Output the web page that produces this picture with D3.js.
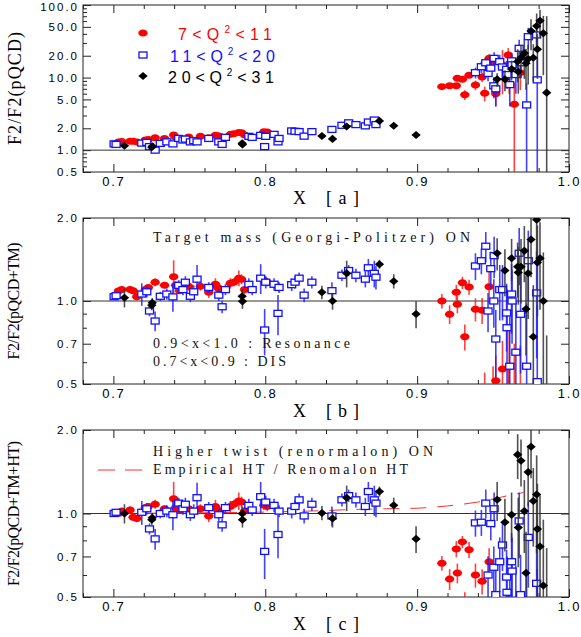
<!DOCTYPE html>
<html>
<head>
<meta charset="utf-8">
<script src="https://cdn.jsdelivr.net/npm/d3@7"></script>
<style>
body { margin: 0; background: #fff; }
svg { display: block; }
</style>
</head>
<body>
<script>
'use strict';

// x axis
const xDomain = [0.68, 1.0];
const xLabelTicks = [0.7, 0.8, 0.9, 1.0];

// 7<Q^2<11
const redX = [0.7033, 0.7055, 0.711, 0.713, 0.7154, 0.721, 0.723, 0.7275, 0.7337, 0.7397, 0.741, 0.7436, 0.7496, 0.7573, 0.7628, 0.7672, 0.7687, 0.770, 0.777, 0.7793, 0.7826, 0.7844, 0.7864, 0.7991, 0.8013,
    0.9163, 0.9214, 0.9258, 0.9265, 0.9298, 0.9314, 0.9342, 0.9384, 0.9428, 0.9445, 0.9474, 0.9500, 0.9518, 0.9562, 0.9600, 0.9606, 0.9640, 0.9680];
const redA = [1.30, 1.32, 1.33, 1.33, 1.30, 1.38, 1.40, 1.48, 1.45, 1.62, 1.50, 1.45, 1.52, 1.55, 1.48, 1.60, 1.58, 1.55, 1.65, 1.68, 1.75, 1.74, 1.62, 1.80, 1.78,
    7.5, 7.7, 7.7, 9.8, 9.5, 5.8, 10.8, 7.9, 10.2, 6.1, 18.4, 16.6, 6.0, 14.9, 20.5, 12.0, 4.3, 11.7];
const redAErr = [0.03, 0.03, 0.03, 0.03, 0.03, 0.03, 0.03, 0.04, 0.03, 0.08, 0.04, 0.03, 0.04, 0.04, 0.04, 0.05, 0.04, 0.04, 0.05, 0.04, 0.06, 0.05, 0.04, 0.05, 0.05,
    0.4, 0.5, 0.5, 0.7, 0.8, 0.9, 1.0, 1.2, 1.5, 1.4, 2.5, 3.0, 2.0, 9.0, 5.0, 6.0, 4.2, 5.0];
const redB = [1.087, 1.10, 1.10, 1.09, 1.036, 1.10, 1.12, 1.17, 1.14, 1.225, 1.14, 1.09, 1.13, 1.13, 1.075, 1.15, 1.12, 1.10, 1.16, 1.17, 1.21, 1.20, 1.10, 1.19, 1.17,
    1.00, 0.895, 1.075, 0.973, 1.165, 0.742, 1.124, 0.933, 0.925, 0.45, 1.127, 0.48, 0.514, 0.567, 0.46, 0.579, 0.40, 0.44];
const redBErr = [0.02, 0.02, 0.03, 0.03, 0.03, 0.03, 0.03, 0.04, 0.03, 0.18, 0.04, 0.03, 0.04, 0.04, 0.05, 0.06, 0.04, 0.04, 0.05, 0.04, 0.08, 0.05, 0.04, 0.04, 0.04,
    0.06, 0.07, 0.07, 0.07, 0.06, 0.08, 0.07, 0.09, 0.10, 0.10, 0.15, 0.10, 0.12, 0.15, 0.12, 0.20, 0.30, 0.25];
const redC = [1.00, 1.02, 1.03, 0.97, 0.96, 1.05, 1.06, 1.08, 1.04, 1.13, 1.05, 1.03, 1.04, 1.04, 0.98, 1.06, 1.03, 1.01, 1.06, 1.08, 1.11, 1.10, 1.02, 1.07, 1.06,
    0.662, 0.58, 0.745, 0.61, 0.79, 0.47, 0.74, 0.60, 0.57, 0.30, 0.67, 0.32, 0.33, 0.36, 0.30, 0.37, 0.26, 0.30];
const redCErr = [0.02, 0.02, 0.03, 0.03, 0.03, 0.03, 0.03, 0.04, 0.03, 0.17, 0.04, 0.03, 0.04, 0.04, 0.05, 0.06, 0.04, 0.04, 0.05, 0.04, 0.08, 0.05, 0.04, 0.04, 0.04,
    0.04, 0.05, 0.05, 0.05, 0.04, 0.05, 0.05, 0.06, 0.06, 0.06, 0.08, 0.06, 0.08, 0.10, 0.08, 0.12, 0.20, 0.15];

// 11<Q^2<20
const blueX = [0.7005, 0.7018, 0.7187, 0.722, 0.7238, 0.7275, 0.7309, 0.7352, 0.7392, 0.743, 0.7458, 0.7474, 0.7507, 0.7529, 0.7551, 0.7628, 0.7694, 0.7716, 0.7738, 0.7892,
    0.7914, 0.797, 0.7996, 0.8003, 0.8058, 0.8084, 0.8091, 0.8174, 0.8196, 0.8223, 0.8256, 0.8307, 0.8439, 0.8505, 0.8549, 0.8597, 0.8659, 0.8679, 0.8718, 0.8729,
    0.9384, 0.9423, 0.9452, 0.9467, 0.9485, 0.9505, 0.9507, 0.9518, 0.9544, 0.9562, 0.9589, 0.9592, 0.9610, 0.9622, 0.9625, 0.9650, 0.9672, 0.9681, 0.9721, 0.9732, 0.9787, 0.9791];
const blueA = [1.22, 1.20, 1.25, 1.28, 1.12, 1.0, 1.24, 1.30, 1.22, 1.45, 1.38, 1.42, 1.30, 1.35, 1.30, 1.45, 1.30, 1.20, 1.50, 1.55,
    1.50, 1.60, 1.12, 1.55, 1.65, 1.30, 1.45, 1.84, 1.82, 1.80, 1.56, 1.80, 1.93, 2.2, 2.38, 2.25, 2.16, 2.44, 2.6, 2.25,
    11.7, 14.1, 16.0, 11.4, 13.5, 7.7, 18.4, 7.0, 16.6, 14.0, 13.0, 11.0, 8.0, 17.0, 15.0, 11.0, 25.3, 16.0, 4.2, 36.6, 38.7, 9.3];
const blueAErr = [0.03, 0.03, 0.06, 0.04, 0.04, 0.05, 0.04, 0.04, 0.08, 0.04, 0.04, 0.05, 0.04, 0.05, 0.10, 0.04, 0.04, 0.04, 0.04, 0.05,
    0.04, 0.12, 0.12, 0.05, 0.05, 0.10, 0.04, 0.06, 0.06, 0.06, 0.06, 0.06, 0.08, 0.07, 0.07, 0.08, 0.08, 0.12, 0.15, 0.12,
    2, 2.5, 3, 2.5, 3, 2.5, 4, 3, 4, 4, 4, 4, 4, 5, 5, 5, 8, 6, 4.1, 12, 15, 9.2];
const blueB = [1.036, 1.045, 1.06, 1.08, 0.92, 0.846, 1.04, 1.06, 1.035, 1.14, 1.10, 1.17, 1.04, 1.08, 1.20, 1.12, 1.05, 0.953, 1.10, 1.15,
    1.10, 1.21, 0.785, 1.17, 1.15, 0.902, 1.12, 1.146, 1.17, 1.21, 1.05, 1.17, 1.09, 1.24, 1.29, 1.24, 1.20, 1.32, 1.26, 1.22,
    1.34, 1.40, 1.58, 0.92, 1.31, 1.0, 1.46, 0.728, 1.10, 1.10, 0.905, 0.80, 0.58, 1.06, 1.0, 0.652, 1.49, 0.895, 0.58, 1.40, 1.07, 0.51];
const blueBErr = [0.02, 0.02, 0.10, 0.05, 0.04, 0.07, 0.04, 0.05, 0.12, 0.05, 0.05, 0.06, 0.05, 0.06, 0.15, 0.05, 0.05, 0.05, 0.05, 0.06,
    0.05, 0.15, 0.15, 0.06, 0.06, 0.15, 0.05, 0.06, 0.06, 0.06, 0.06, 0.06, 0.08, 0.06, 0.06, 0.07, 0.08, 0.10, 0.14, 0.12,
    0.15, 0.15, 0.2, 0.15, 0.2, 0.2, 0.25, 0.2, 0.25, 0.25, 0.25, 0.3, 0.3, 0.3, 0.3, 0.35, 0.35, 0.35, 0.4, 0.4, 0.45, 0.45];
const blueC = [1.0, 1.01, 1.01, 1.04, 0.88, 0.81, 1.0, 1.02, 0.99, 1.09, 1.04, 1.08, 0.99, 1.02, 1.14, 1.05, 0.99, 0.91, 1.05, 1.07,
    1.03, 1.15, 0.73, 1.10, 1.07, 0.84, 1.02, 1.02, 1.06, 1.12, 0.98, 1.08, 0.98, 1.12, 1.16, 1.12, 1.06, 1.2, 1.12, 1.09,
    0.925, 0.93, 1.09, 0.60, 0.92, 0.64, 1.04, 0.51, 0.67, 0.77, 0.59, 0.52, 0.40, 0.67, 0.62, 0.45, 0.94, 0.51, 0.38, 0.82, 0.56, 0.33];
const blueCErr = [0.02, 0.02, 0.10, 0.05, 0.04, 0.07, 0.04, 0.05, 0.12, 0.05, 0.05, 0.06, 0.05, 0.06, 0.15, 0.05, 0.05, 0.05, 0.05, 0.06,
    0.05, 0.15, 0.15, 0.06, 0.06, 0.15, 0.05, 0.06, 0.06, 0.06, 0.06, 0.06, 0.08, 0.06, 0.06, 0.07, 0.08, 0.10, 0.14, 0.12,
    0.1, 0.1, 0.13, 0.1, 0.12, 0.12, 0.15, 0.12, 0.15, 0.15, 0.15, 0.18, 0.18, 0.18, 0.2, 0.2, 0.25, 0.2, 0.25, 0.28, 0.3, 0.3];

// 20<Q^2<31
const blackX = [0.7073, 0.7253, 0.7256, 0.7848, 0.7850, 0.8373, 0.8443, 0.8536, 0.8752, 0.8846, 0.8993,
    0.9527, 0.9578, 0.9622, 0.9662, 0.9666, 0.9684, 0.9706, 0.9717, 0.9731, 0.9750, 0.9765, 0.9787, 0.9792, 0.9809, 0.9831, 0.9853];
const blackA = [1.15, 1.10, 1.13, 1.24, 1.20, 1.57, 1.43, 2.12, 2.53, 2.17, 1.62,
    9.5, 9.5, 13.1, 16.6, 12.0, 18.8, 21.6, 15.8, 18.0, 43.8, 18.8, 51.4, 24.6, 60.8, 40.8, 6.2];
const blackAErr = [0.05, 0.05, 0.05, 0.06, 0.06, 0.08, 0.08, 0.15, 0.10, 0.10, 0.10,
    2, 3, 4, 8, 6, 9, 12, 9, 10, 20, 10, 25, 15, 25, 30, 64];
const blackB = [1.028, 0.965, 0.985, 1.04, 0.997, 1.075, 1.0, 1.26, 1.36, 1.18, 0.897,
    1.49, 1.29, 1.43, 1.33, 1.27, 1.33, 1.52, 0.935, 1.26, 1.67, 0.742, 1.97, 1.38, 1.43, 1.0, 0.45];
const blackBErr = [0.08, 0.04, 0.04, 0.06, 0.06, 0.06, 0.07, 0.14, 0.05, 0.07, 0.10,
    0.2, 0.25, 0.25, 0.3, 0.3, 0.35, 0.35, 0.3, 0.4, 0.45, 0.4, 0.6, 0.5, 0.5, 0.5, 0.3];
const blackC = [1.0, 0.95, 0.965, 1.0, 0.95, 1.005, 0.96, 1.14, 1.2, 1.07, 0.81,
    1.12, 0.93, 0.99, 1.63, 0.89, 1.55, 1.02, 0.61, 1.41, 1.74, 1.11, 1.17, 0.88, 0.76, 0.55, 0.45];
const blackCErr = [0.08, 0.04, 0.04, 0.06, 0.06, 0.06, 0.07, 0.12, 0.05, 0.07, 0.09,
    0.18, 0.2, 0.2, 0.3, 0.25, 0.3, 0.3, 0.25, 0.35, 0.4, 0.35, 0.45, 0.4, 0.4, 0.4, 0.3];

// Empirical HT / renormalon HT ratio curve (panel c)
const htX = [0.70, 0.75, 0.80, 0.84, 0.86, 0.88, 0.90, 0.92, 0.94, 0.96, 0.97];
const htY = [1.0, 1.005, 1.012, 1.025, 1.035, 1.04, 1.045, 1.065, 1.10, 1.16, 1.19];

// y axis labels
const yLabelsA = [0.5, 1, 2, 5, 10, 20, 50, 100];
const yLabelsBC = [0.5, 0.7, 1, 2];

const width = 581;
const height = 637;
const serif = '"Liberation Serif", "DejaVu Serif", serif';
const sans = '"Liberation Sans", Arial, sans-serif';

const svg = d3.select('body')
    .append('svg')
    .attr('width', width)
    .attr('height', height);

const x = d3.scaleLinear().domain(xDomain).range([83, 569]);
const rows = (xs, ys, es) => xs.map((v, i) => ({ x: v, y: ys[i], e: es[i] }));

const seriesStyle = {
    red: { mark: 'ellipse', color: '#ff0000', bar: '#ff2020' },
    blue: { mark: 'square', color: '#1010ff', bar: '#2020ff' },
    black: { mark: 'diamond', color: '#000', bar: '#333' }
};

const panels = [
    {
        name: 'a', top: 5, bottom: 172, domain: [0.5, 100], labels: yLabelsA,
        ytitle: 'F2/F2(pQCD)', ytitleX: 21, ytitleSize: 18, ytitleLen: 113,
        data: [['red', redX, redA, redAErr], ['blue', blueX, blueA, blueAErr], ['black', blackX, blackA, blackAErr]]
    },
    {
        name: 'b', top: 218, bottom: 384, domain: [0.5, 2], labels: yLabelsBC,
        ytitle: 'F2/F2(pQCD+TM)', ytitleX: 19, ytitleSize: 16, ytitleLen: 117,
        data: [['red', redX, redB, redBErr], ['blue', blueX, blueB, blueBErr], ['black', blackX, blackB, blackBErr]]
    },
    {
        name: 'c', top: 430, bottom: 597, domain: [0.5, 2], labels: yLabelsBC,
        ytitle: 'F2/F2(pQCD+TM+HT)', ytitleX: 19, ytitleSize: 16, ytitleLen: 145,
        data: [['red', redX, redC, redCErr], ['blue', blueX, blueC, blueCErr], ['black', blackX, blackC, blackCErr]]
    }
];

const drawMarks = (layer, kind, data, y) => {
    const st = seriesStyle[kind];
    if (st.mark === 'ellipse') {
        layer.selectAll('ellipse').data(data).join('ellipse')
            .attr('cx', d => x(d.x)).attr('cy', d => y(d.y))
            .attr('rx', 4.7).attr('ry', 3.5)
            .attr('fill', st.color);
    } else if (st.mark === 'square') {
        layer.selectAll('rect').data(data).join('rect')
            .attr('x', d => x(d.x) - 4).attr('y', d => y(d.y) - 3)
            .attr('width', 8).attr('height', 6)
            .attr('fill', '#fff').attr('stroke', st.color).attr('stroke-width', 1.3);
    } else {
        const sym = d3.symbol().type(d3.symbolDiamond).size(36);
        layer.selectAll('path').data(data).join('path')
            .attr('d', sym)
            .attr('transform', d => `translate(${x(d.x)},${y(d.y)}) scale(1.45,0.72)`)
            .attr('fill', st.color);
    }
};

const styleAxis = (sel) => {
    sel.select('.domain').remove();
    sel.selectAll('line').attr('stroke', '#222');
};

panels.forEach(p => {
    const y = d3.scaleLog().domain(p.domain).range([p.bottom, p.top]);
    const g = svg.append('g').attr('class', 'panel_' + p.name);
    const [x0, x1] = x.range();

    svg.append('clipPath').attr('id', 'clip_' + p.name)
        .append('rect')
        .attr('x', x0).attr('y', p.top)
        .attr('width', x1 - x0).attr('height', p.bottom - p.top);

    // ticks (inward)
    const xMinor = x.ticks(16).filter(v => !xLabelTicks.some(t => Math.abs(t - v) < 1e-6));
    const yMinor = y.ticks().filter(v => !p.labels.some(t => Math.abs(t - v) < 1e-6));

    const bottomMajor = g.append('g').attr('transform', `translate(0,${p.bottom})`)
        .call(d3.axisBottom(x).tickValues(xLabelTicks).tickSize(-8).tickPadding(5).tickFormat(d3.format('.1f')));
    bottomMajor.selectAll('text')
        .attr('font-family', sans).attr('font-size', 13).attr('letter-spacing', 1.8)
        .attr('fill', '#000');
    g.append('g').attr('transform', `translate(0,${p.bottom})`)
        .call(d3.axisBottom(x).tickValues(xMinor).tickSize(-4).tickFormat(''));
    g.append('g').attr('transform', `translate(0,${p.top})`)
        .call(d3.axisTop(x).tickValues(xLabelTicks).tickSize(-8).tickFormat(''));
    g.append('g').attr('transform', `translate(0,${p.top})`)
        .call(d3.axisTop(x).tickValues(xMinor).tickSize(-4).tickFormat(''));

    const leftMajor = g.append('g').attr('transform', `translate(${x0},0)`)
        .call(d3.axisLeft(y).tickValues(p.labels).tickSize(-8).tickPadding(4).tickFormat(d3.format('.1f')));
    leftMajor.selectAll('text')
        .attr('font-family', sans).attr('font-size', 11.5).attr('letter-spacing', 2)
        .attr('fill', '#000')
        .attr('dy', d => (p.name === 'a' && d === 100 ? '0.45em' : '0.32em'));
    g.append('g').attr('transform', `translate(${x0},0)`)
        .call(d3.axisLeft(y).tickValues(yMinor).tickSize(-4).tickFormat(''));
    g.append('g').attr('transform', `translate(${x1},0)`)
        .call(d3.axisRight(y).tickValues(p.labels).tickSize(-8).tickFormat(''));
    g.append('g').attr('transform', `translate(${x1},0)`)
        .call(d3.axisRight(y).tickValues(yMinor).tickSize(-4).tickFormat(''));
    g.selectAll('g').call(styleAxis);

    // frame and unity line
    g.append('rect')
        .attr('x', x0).attr('y', p.top)
        .attr('width', x1 - x0).attr('height', p.bottom - p.top)
        .attr('fill', 'none').attr('stroke', '#222').attr('stroke-width', 1);
    g.append('line')
        .attr('x1', x0).attr('x2', x1)
        .attr('y1', y(1)).attr('y2', y(1))
        .attr('stroke', '#333').attr('stroke-width', 1);

    const layer = g.append('g').attr('clip-path', `url(#clip_${p.name})`);

    // HT curve only in panel c
    if (p.name === 'c') {
        layer.append('path')
            .datum(d3.zip(htX, htY))
            .attr('d', d3.line().x(d => x(d[0])).y(d => y(d[1])).curve(d3.curveMonotoneX))
            .attr('fill', 'none').attr('stroke', '#ff3030').attr('stroke-width', 1)
            .attr('stroke-dasharray', '16,11');
    }

    p.data.forEach(([kind, xs, ys, es]) => {
        const data = rows(xs, ys, es);
        const st = seriesStyle[kind];
        const sg = layer.append('g').attr('class', 'series_' + kind);
        sg.append('g').selectAll('line').data(data).join('line')
            .attr('x1', d => x(d.x)).attr('x2', d => x(d.x))
            .attr('y1', d => y(Math.max(d.y - d.e, p.domain[0] * 0.3)))
            .attr('y2', d => y(d.y + d.e))
            .attr('stroke', st.bar).attr('stroke-width', 1.6).attr('stroke-opacity', 0.85);
        drawMarks(sg.append('g'), kind, data, y);
    });

    // y title
    g.append('text')
        .attr('transform', `translate(${p.ytitleX},${(p.top + p.bottom) / 2}) rotate(-90)`)
        .attr('text-anchor', 'middle')
        .attr('font-family', serif).attr('font-size', p.ytitleSize)
        .attr('textLength', p.ytitleLen).attr('lengthAdjust', 'spacing')
        .text(p.ytitle);

    // x title
    const xtY = p.bottom + (p.name === 'a' ? 32 : 33);
    g.append('text').attr('x', 293).attr('y', xtY)
        .attr('font-family', serif).attr('font-size', 18).text('X');
    g.append('text').attr('x', 326).attr('y', xtY)
        .attr('font-family', serif).attr('font-size', 18)
        .attr('textLength', 33).attr('lengthAdjust', 'spacing')
        .text(`[${p.name}]`);
});

// legend in panel a
const legendItems = [
    { kind: 'red', pre: '7<Q', post: '<11', y: 40, len: 94, x: 178 },
    { kind: 'blue', pre: '11<Q', post: '<20', y: 62, len: 105, x: 170 },
    { kind: 'black', pre: '20<Q', post: '<31', y: 83, len: 106, x: 168 }
];
const legend = svg.append('g').attr('class', 'legend');
legendItems.forEach(item => {
    const st = seriesStyle[item.kind];
    const mark = legend.append('g');
    const ly = d3.scaleLinear().domain([0, 1]).range([item.y - 7, item.y - 7]);
    drawMarks(mark, item.kind, [{ x: x.invert(143), y: 0 }], ly);
    const t = legend.append('text')
        .attr('x', item.x).attr('y', item.y)
        .attr('font-family', sans).attr('font-size', 16)
        .attr('fill', st.color)
        .attr('textLength', item.len).attr('lengthAdjust', 'spacing');
    t.append('tspan').text(item.pre);
    t.append('tspan').attr('dy', -7).attr('font-size', 10).text('2');
    t.append('tspan').attr('dy', 7).text(item.post);
});

// notes in panels b and c
const notes = [
    { text: 'Target mass (Georgi-Politzer) ON', x: 153, y: 242, len: 317 },
    { text: '0.9<x<1.0 : Resonance', x: 153, y: 348, len: 197 },
    { text: '0.7<x<0.9 : DIS', x: 153, y: 366, len: 133 },
    { text: 'Higher twist (renormalon) ON', x: 153, y: 456, len: 280 },
    { text: 'Empirical HT / Renomalon HT', x: 153, y: 474, len: 255 }
];
svg.append('g').selectAll('text').data(notes).join('text')
    .attr('x', d => d.x).attr('y', d => d.y)
    .attr('font-family', serif).attr('font-size', 14)
    .attr('textLength', d => d.len).attr('lengthAdjust', 'spacing')
    .attr('fill', '#111')
    .text(d => d.text);
svg.append('line')
    .attr('x1', 98).attr('x2', 144).attr('y1', 470).attr('y2', 470)
    .attr('stroke', '#ff3030').attr('stroke-width', 1)
    .attr('stroke-dasharray', '17,10');
</script>
</body>
</html>
